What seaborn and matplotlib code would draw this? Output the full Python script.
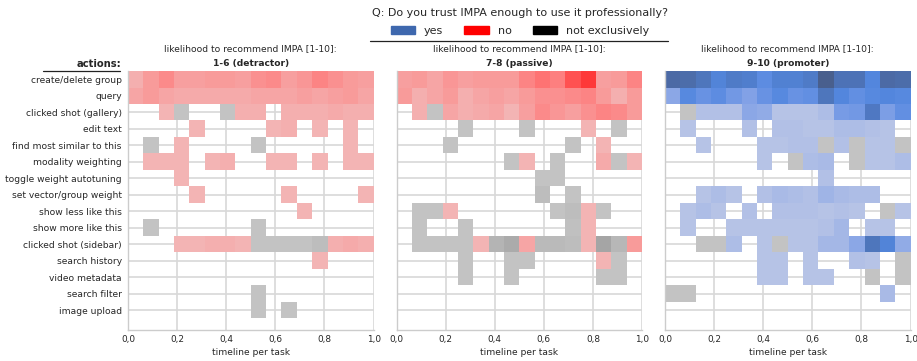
import numpy as np
import pandas as pd
import seaborn as sns
import matplotlib.pyplot as plt
from matplotlib.lines import Line2D
from matplotlib.ticker import FuncFormatter

# ---------------------------------------------------------------------------
# Data: how often each action was logged in each 1/16 slice of the task
# timeline.  One character per slice, counts written in base 36 ("." = 0).
# ---------------------------------------------------------------------------
actions = [
    "create/delete group",
    "query",
    "clicked shot (gallery)",
    "edit text",
    "find most similar to this",
    "modality weighting",
    "toggle weight autotuning",
    "set vector/group weight",
    "show less like this",
    "show more like this",
    "clicked shot (sidebar)",
    "search history",
    "video metadata",
    "search filter",
    "image upload",
]

groups = ["1-6 (detractor)", "7-8 (passive)", "9-10 (promoter)"]
trust_levels = ["yes", "no", "not exclusively"]
trust_colors = ["#3e68ae", "#ff0000", "#000000"]
n_slices = 16

detractor_no = [
    "269556658957a865",
    "4643333344454564",
    "..1....22.222322",
    "....1....12.1.1.",
    "...1..........1.",
    ".111.12..11.1.11",
    "...1............",
    "....1.....1....1",
    "...........1....",
    "................",
    "...11221.....232",
    "............1...",
    "................",
    "................",
    "................",
]
detractor_not_exclusively = [
    "................",
    "................",
    "...1..1.........",
    "................",
    ".1......1.......",
    "................",
    "................",
    "................",
    "................",
    ".1......1.......",
    "........11113...",
    "................",
    "................",
    "........1.......",
    "........1.1.....",
]

passive_no = [
    "56475666adbil56a",
    "624624546889a626",
    ".2.4234159758a96",
    "............1...",
    ".............1..",
    "........1....3.1",
    "................",
    "................",
    "...1........1...",
    "............1...",
    ".....1..4...1..6",
    ".............1..",
    "................",
    "................",
    "................",
]
passive_not_exclusively = [
    "................",
    "................",
    "..1.............",
    "....1...1.....1.",
    "...1.......1....",
    ".......1..1...1.",
    ".........11.....",
    ".........3.1....",
    ".11.......13.1..",
    ".1..1......2....",
    ".1111.69.443.b5.",
    "....1..11.....1.",
    "....1..1.....11.",
    "................",
    "................",
]

promoter_yes = [
    "vurmpojnnpzsslvu",
    "akhjfchkhirliklk",
    "..222a91113efqdi",
    ".1...2.22113321.",
    "..1...1122.2.11.",
    "......1..34..113",
    "..........2.....",
    "..131.24326433..",
    ".131.2.222121..1",
    ".1..11111125.11.",
    "....3.1.1155arm9",
    "......11.1..21..",
    "......11.11.....",
    "..............4.",
    "................",
]
promoter_not_exclusively = [
    "................",
    "................",
    ".1..............",
    "................",
    "..........1.1..1",
    "........1...1...",
    "................",
    "................",
    "..............1.",
    "................",
    "..11...1........",
    "...............1",
    ".............1.1",
    "11..............",
    "................",
]

count_tables = {
    (groups[0], "no"): detractor_no,
    (groups[0], "not exclusively"): detractor_not_exclusively,
    (groups[1], "no"): passive_no,
    (groups[1], "not exclusively"): passive_not_exclusively,
    (groups[2], "yes"): promoter_yes,
    (groups[2], "not exclusively"): promoter_not_exclusively,
}

records = []
for (group, trust), table in count_tables.items():
    for action, line in zip(actions, table):
        for k, ch in enumerate(line):
            if ch != ".":
                records.append({
                    "group": group,
                    "trust": trust,
                    "action": action,
                    "timeline": (k + 0.5) / n_slices,
                    "count": int(ch, 36),
                })
df = pd.DataFrame(records)
df["action"] = pd.Categorical(df["action"], categories=actions)

# ---------------------------------------------------------------------------
# Plot
# ---------------------------------------------------------------------------
FS = 6.6
sns.set_theme(style="whitegrid", rc={
    "grid.color": "#d8d8d8",
    "grid.linewidth": 1.2,
    "axes.edgecolor": "#cccccc",
    "axes.linewidth": 1.0,
    "xtick.labelsize": 6.4,
    "ytick.labelsize": FS,
    "axes.labelsize": FS,
    "xtick.major.size": 0,
    "ytick.major.size": 0,
})
plt.rcParams["font.family"] = ["DejaVu Sans"]

g = sns.displot(
    df, x="timeline", y="action", hue="trust", col="group",
    weights="count", kind="hist",
    bins=n_slices, binrange=((0, 1), None),
    hue_order=trust_levels, col_order=groups,
    palette=dict(zip(trust_levels, trust_colors)),
    vmax=40, height=3, aspect=1,
    facet_kws=dict(legend_out=False),
)

fig = g.figure
fig.set_size_inches(9.17, 3.61)
fig.subplots_adjust(left=0.1396, right=0.993, top=0.8033, bottom=0.0859,
                    wspace=0.0935)

g.set_titles("")
comma_fmt = FuncFormatter(lambda v, _: f"{v:.1f}".replace(".", ","))
for i, (ax, group) in enumerate(zip(g.axes.flat, groups)):
    ax.set_xlim(0, 1)
    ax.set_ylim(15.2, -0.5)
    ax.set_xticks(np.linspace(0, 1, 6))
    ax.xaxis.set_major_formatter(comma_fmt)
    ax.set_xlabel("timeline per task", fontsize=FS, labelpad=3)
    ax.set_ylabel("")
    ax.tick_params(axis="x", length=0, pad=3.5)
    ax.tick_params(axis="y", length=0, pad=4.5, labelleft=(i == 0))
    ax.annotate("likelihood to recommend IMPA [1-10]:", xy=(0.5, 1.0),
                xycoords="axes fraction", xytext=(0, 16.3),
                textcoords="offset points", ha="center", va="center",
                fontsize=FS)
    ax.annotate(group, xy=(0.5, 1.0), xycoords="axes fraction",
                xytext=(0, 5.5), textcoords="offset points",
                ha="center", va="center", fontsize=FS, fontweight="bold")

# y-axis heading with its rule
fig.text(121 / 917, 1 - 64 / 361, "actions:", ha="right", va="center",
         fontsize=7.2, fontweight="bold")
fig.add_artist(Line2D([43 / 917, 120 / 917], [1 - 71 / 361, 1 - 71 / 361],
                      color="#222222", lw=0.9, transform=fig.transFigure))

# legend across the top
sns.move_legend(
    g, "upper center", bbox_to_anchor=(520 / 917, 1 - 6 / 361),
    ncol=3, frameon=False,
    title="Q: Do you trust IMPA enough to use it professionally?",
    fontsize=8, title_fontsize=8,
    handlelength=2.2, handleheight=0.7, handletextpad=0.8,
    columnspacing=1.9, borderaxespad=0, borderpad=0.2, labelspacing=0.7,
)
fig.add_artist(Line2D([370 / 917, 668 / 917], [1 - 41 / 361, 1 - 41 / 361],
                      color="#222222", lw=0.9, transform=fig.transFigure))

fig.savefig("out.png", dpi=100)
